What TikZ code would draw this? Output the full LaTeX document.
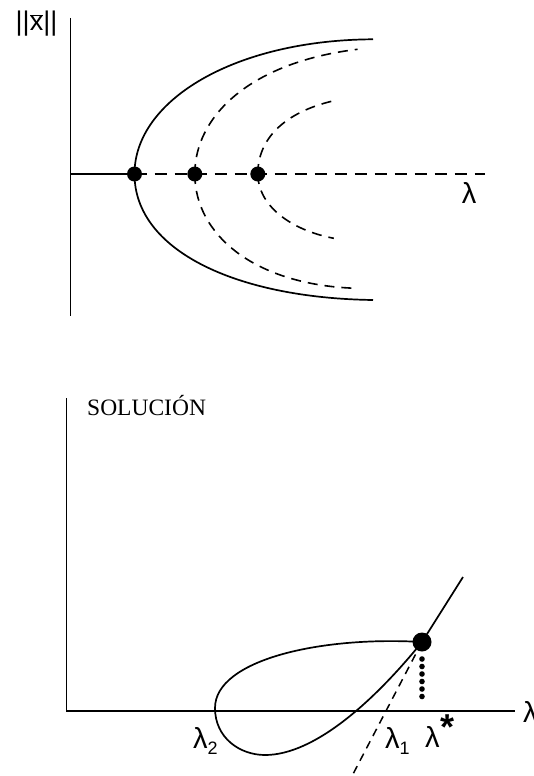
\documentclass[tikz,border=0pt]{standalone}
\usepackage{fontspec}
\setmainfont{Liberation Serif}
\newfontfamily\lsans{Liberation Sans}
\begin{document}
\begin{tikzpicture}[x=1pt,y=-1pt,
 axis/.style={line width=1.8pt},
 curve/.style={line width=1.7pt},
 dsh/.style={line width=1.6pt, dash pattern=on 10pt off 7pt},
 bigdot/.style={circle, fill=black, inner sep=0pt, minimum size=15pt},
 smalldot/.style={circle, fill=black, inner sep=0pt, minimum size=5.6pt},
 lam/.style={font=\lsans\fontsize{29}{31}\selectfont, inner sep=0pt},
]
\useasboundingbox (0,0) rectangle (534,776);
% ---------- top diagram ----------
\coordinate (ya) at (70.5,18);
\coordinate (yb) at (70.5,316);
\coordinate (o1) at (70.5,174);
\coordinate (xe) at (485,174);
\draw[axis] (ya) -- (yb);
\node[bigdot] (d1) at (134.5,174) {};
\node[bigdot] (d2) at (194.8,174) {};
\node[bigdot] (d3) at (257.8,174) {};
\draw[axis] (o1) -- (d1.center);
\draw[axis, line width=1.7pt, dash pattern=on 12pt off 8pt] (d1.center) -- (xe);
\draw[curve] (d1.center) .. controls (134.5,100) and (235,40) .. (373,39.3);
\draw[curve] (d1.center) .. controls (134.5,250) and (235,298) .. (373,300);
\draw[dsh] (d2.center) .. controls (194.8,115) and (252,62) .. (357.6,49.3);
\draw[dsh] (d2.center) .. controls (194.8,235) and (255,285) .. (356,288.3);
\draw[dsh] (d3.center) .. controls (257.8,135) and (290,110) .. (337.2,100);
\draw[dsh] (d3.center) .. controls (257.8,205) and (290,230) .. (333.8,238.3);
\node[font=\lsans\fontsize{27}{30}\selectfont, inner sep=0pt] (nx) at (36.5,24) {||$\overline{\hbox{x}}$||};
\node[lam] (l0) at (469,193) {λ};
% ---------- bottom diagram ----------
\coordinate (yb1) at (66.4,398);
\coordinate (o2) at (66.4,711);
\coordinate (xe2) at (515,711);
\draw[axis] (yb1) -- (o2) -- (xe2);
\node[anchor=base west, font=\fontsize{23.5}{26}\selectfont, inner sep=0pt] (sol) at (87,415) {SOLUCIÓN};
\node[bigdot, minimum size=19pt] (P) at (422,642) {};
\coordinate (tip) at (463,577);
\draw[curve] (tip) -- (P.center);
\draw[curve] (P.center) .. controls (320,636) and (215,660) .. (215,708)
  .. controls (215,738) and (240,755) .. (265,755)
  .. controls (315,755) and (375,700) .. (P.center);
\coordinate (dend) at (352,776);
\draw[line width=1.5pt, dash pattern=on 8pt off 6pt] (P.center) -- (dend);
\foreach \i in {0,...,5} \node[smalldot] (s\i) at (422,659+7.5*\i) {};
\node[lam, anchor=base west] (l2) at (193,748) {λ\raisebox{-6pt}{\fontsize{18}{20}\selectfont 2}};
\node[lam, anchor=base west] (l1) at (385,748) {λ\raisebox{-6pt}{\fontsize{18}{20}\selectfont 1}};
\node[lam, anchor=base west] (ls) at (425,747) {λ\kern1pt\raisebox{8pt}{\fontsize{36}{38}\selectfont\bfseries *}};
\node[lam, anchor=west] (lx) at (523,712) {λ};
\end{tikzpicture}
\end{document}
